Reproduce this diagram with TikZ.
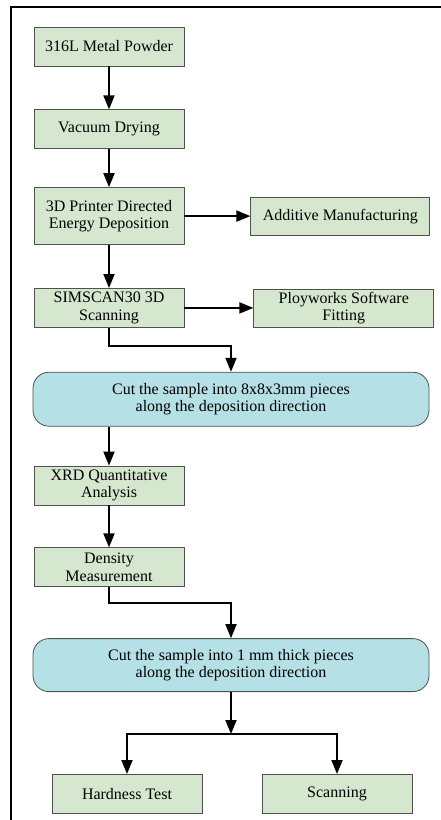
\documentclass[tikz,border=0pt]{standalone}
\usepackage{fontspec}
\setmainfont{Liberation Serif}
\usetikzlibrary{arrows.meta, positioning}
\definecolor{boxgreen}{RGB}{213,232,207}
\definecolor{boxblue}{RGB}{180,224,230}
\definecolor{boxline}{RGB}{80,80,80}

\begin{document}
\begin{tikzpicture}[
    node distance=41pt and 66pt,
    box/.style={rectangle, draw=boxline, fill=boxgreen, line width=0.8pt, minimum width=150pt, minimum height=39pt, inner sep=1pt, align=center, font=\fontsize{16}{17.5}\selectfont},
    cutbox/.style={box, fill=boxblue, rounded corners=16pt, minimum width=396pt, minimum height=54pt},
    arr/.style={-{Triangle[length=14pt, width=11pt]}, line width=1.8pt}
  ]

% Frame
\useasboundingbox (0pt,0pt) rectangle (441pt,-820pt);
\draw[line width=1.2pt] (441pt,-7pt) -- (11pt,-7pt) -- (11pt,-820pt);

% Nodes
\node[box] (powder) at (109pt,-46.5pt) {316L Metal Powder};
\node[box, below=43pt of powder] (drying) {Vacuum Drying};
\node[box, below=38pt of drying, minimum height=57pt] (printer) {3D Printer Directed\\Energy Deposition};
\node[box, right=of printer, minimum width=179pt, minimum height=38pt] (additive) {Additive Manufacturing};
\node[box, below=43pt of printer] (scan3d) {SIMSCAN30 3D\\Scanning};
\node[box, right=69pt of scan3d, minimum width=180pt, minimum height=38pt] (fitting) {Ployworks Software\\Fitting};
\node[cutbox, below=44pt of scan3d, xshift=122pt] (cutcube) {Cut the sample into 8x8x3mm pieces\\along the deposition direction};
\node[box, below=39pt of cutcube, xshift=-122pt] (xrd) {XRD Quantitative\\Analysis};
\node[box, below=42pt of xrd] (density) {Density\\Measurement};
\node[cutbox, below=51pt of density, xshift=122pt, minimum height=53pt] (cutthin) {Cut the sample into 1 mm thick pieces\\along the deposition direction};
\coordinate[below=42pt of cutthin] (split);
\node[box, below=82pt of cutthin, xshift=-104pt] (hardness) {Hardness Test};
\node[box, below=82pt of cutthin, xshift=106pt] (scanning) {Scanning};

% Arrows
\draw[arr] (powder) -- (drying);
\draw[arr] (drying) -- (printer);
\draw[arr] (printer) -- (additive);
\draw[arr] (printer) -- (scan3d);
\draw[arr] (scan3d) -- (fitting);
\draw[arr] (scan3d.south) -- ++(0,-18pt) -| (cutcube.north);
\draw[arr] (cutcube.south -| xrd.north) -- (xrd.north);
\draw[arr] (xrd) -- (density);
\draw[arr] (density.south) -- ++(0,-16pt) -| (cutthin.north);
\draw[arr] (cutthin.south) -- (split);
\draw[arr] (split) -| (hardness.north);
\draw[arr] (split) -| (scanning.north);

\end{tikzpicture}
\end{document}
